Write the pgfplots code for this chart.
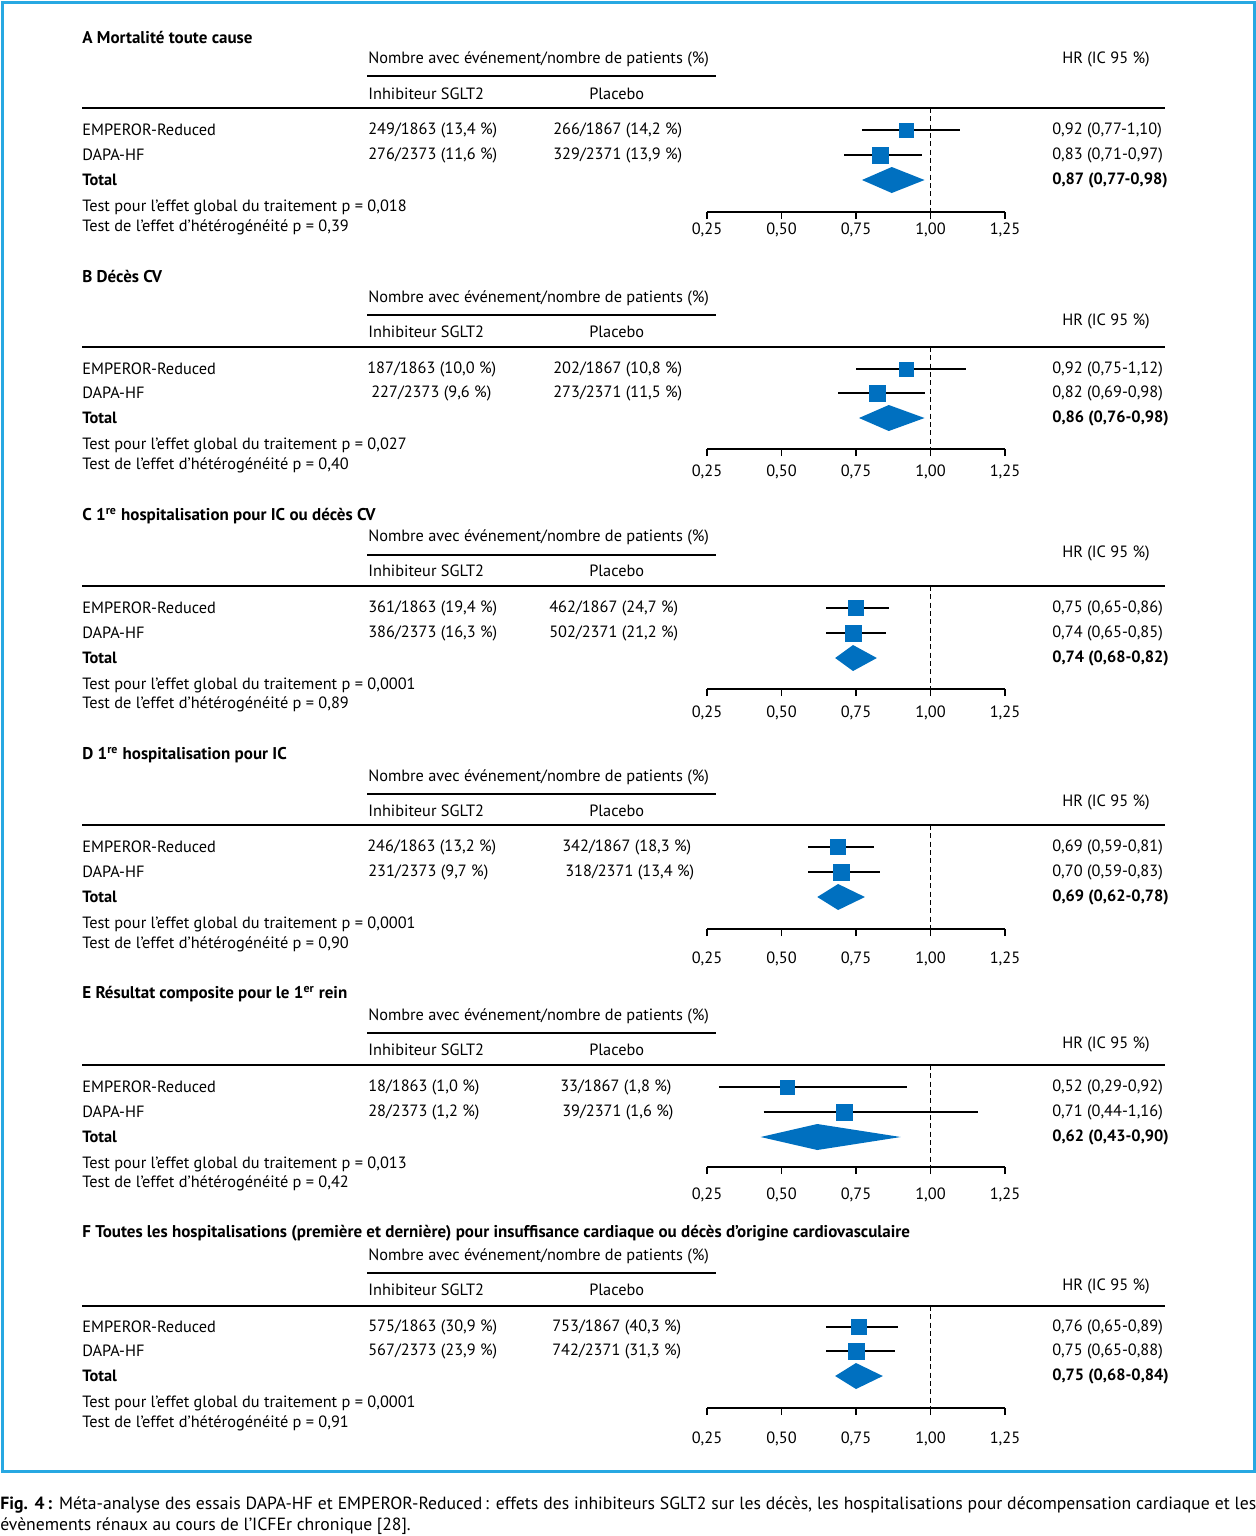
\documentclass[border=0pt]{standalone}
\usepackage{pgfplots}
\pgfplotsset{compat=1.18}
\usepackage{fontspec}
\setmainfont{PT Sans}
\definecolor{mblue}{RGB}{0,112,192}
\definecolor{fblue}{RGB}{40,168,226}
\newcommand\tf{\fontsize{9.8}{11}\selectfont}
\newcommand\hf{\fontsize{10.2}{12}\selectfont\bfseries}

% one forest plot = one axis, y given in pixel rows (negative)
\pgfplotsset{
  forest/.style={
    x=178.8pt, y=0.6pt, anchor=north west, clip=false,
    xmin=0.25, xmax=1.25,
    axis x line*=bottom, hide y axis,
    x axis line style={-, line width=0.9pt},
    xtick={0.25,0.5,0.75,1,1.25},
    tick align=outside, major tick length=4.2pt,
    tick style={line width=0.9pt, black},
    /pgf/number format/use comma,
    /pgf/number format/fixed,
    /pgf/number format/fixed zerofill,
    /pgf/number format/precision=2,
    /pgf/number format/assume math mode=true,
    xticklabel style={font=\tf, anchor=center},
  },
  ci/.style={line width=0.9pt, black},
  est/.style={only marks, mark=square*, mark size=#1, mark options={draw=mblue, fill=mblue}},
  dia/.style={fill=mblue, draw=none},
  ref/.style={densely dashed, line width=0.6pt, black},
}
\newcommand\T[3]{\node[anchor=west, inner sep=0pt, font=\tf] at (#1,#2) {#3};}
\newcommand\Hd[3]{\node[anchor=west, inner sep=0pt, font=\hf] at (#1,#2) {#3};}

\begin{document}
\begin{tikzpicture}[x=0.6pt, y=-0.6pt]
\path[use as bounding box] (0,0) rectangle (1256,1536);
\draw[fblue, line width=1.8pt] (2,2) rectangle (1254,1471);

% ---------- A
\Hd{82}{37}{A Mortalité toute cause}
\T{368}{59}{Nombre avec événement/nombre de patients (\%)}
\draw[line width=1.2pt] (367,76) -- (716,76);
\T{368}{94}{Inhibiteur SGLT2}
\T{589}{94}{Placebo}
\T{1062}{59}{HR (IC 95~\%)}
\draw[line width=1.2pt] (82,108) -- (1165,108);
\T{82}{130}{EMPEROR-Reduced}
\T{368}{130}{249/1863 (13,4~\%)}
\T{553}{130}{266/1867 (14,2~\%)}
\T{1052}{130}{0,92 (0,77-1,10)}
\T{82}{155}{DAPA-HF}
\T{368}{155}{276/2373 (11,6~\%)}
\T{553}{155}{329/2371 (13,9~\%)}
\T{1052}{155}{0,83 (0,71-0,97)}
\T{82}{180}{\bfseries Total}
\T{1052}{180}{\bfseries 0,87 (0,77-0,98)}
\T{82}{207}{Test pour l'effet global du traitement p = 0,018}
\T{82}{227}{Test de l'effet d'hétérogénéité p = 0,39}
\begin{axis}[forest, at={(707*0.6pt,-108*0.6pt)}, ymin=-212, ymax=-108, xticklabel style={yshift=-6.6pt}]
\addplot[ref] coordinates {(1,-108) (1,-212)};
\addplot[ci] coordinates {(0.77,-130) (1.10,-130)};
\addplot[est=4.2pt] coordinates {(0.92,-130)};
\addplot[ci] coordinates {(0.71,-155) (0.97,-155)};
\addplot[est=4.8pt] coordinates {(0.83,-155)};
\addplot[dia] coordinates {(0.77,-180) (0.87,-167) (0.98,-180) (0.87,-193)} -- cycle;
\end{axis}

% ---------- B
\Hd{82}{276}{B Décès CV}
\T{368}{298}{Nombre avec événement/nombre de patients (\%)}
\draw[line width=1.2pt] (367,315) -- (716,315);
\T{368}{332}{Inhibiteur SGLT2}
\T{589}{332}{Placebo}
\T{1062}{321}{HR (IC 95~\%)}
\draw[line width=1.2pt] (82,347) -- (1165,347);
\T{82}{369}{EMPEROR-Reduced}
\T{367}{369}{187/1863 (10,0~\%)}
\T{553}{369}{202/1867 (10,8~\%)}
\T{1052}{369}{0,92 (0,75-1,12)}
\T{82}{393}{DAPA-HF}
\T{371}{393}{227/2373 (9,6~\%)}
\T{553}{393}{273/2371 (11,5~\%)}
\T{1052}{393}{0,82 (0,69-0,98)}
\T{82}{418}{\bfseries Total}
\T{1052}{418}{\bfseries 0,86 (0,76-0,98)}
\T{82}{445}{Test pour l'effet global du traitement p = 0,027}
\T{82}{465}{Test de l'effet d'hétérogénéité p = 0,40}
\begin{axis}[forest, at={(707*0.6pt,-347*0.6pt)}, ymin=-449, ymax=-347, xticklabel style={yshift=-9.6pt}]
\addplot[ref] coordinates {(1,-347) (1,-449)};
\addplot[ci] coordinates {(0.75,-369) (1.12,-369)};
\addplot[est=4.2pt] coordinates {(0.92,-369)};
\addplot[ci] coordinates {(0.69,-393) (0.98,-393)};
\addplot[est=4.8pt] coordinates {(0.82,-393)};
\addplot[dia] coordinates {(0.76,-418) (0.86,-405) (0.98,-418) (0.86,-431)} -- cycle;
\end{axis}

% ---------- C
\Hd{82}{516}{C 1\textsuperscript{re} hospitalisation pour IC ou décès CV}
\T{368}{537}{Nombre avec événement/nombre de patients (\%)}
\draw[line width=1.2pt] (367,555) -- (716,555);
\T{368}{571}{Inhibiteur SGLT2}
\T{589}{571}{Placebo}
\T{1062}{553}{HR (IC 95~\%)}
\draw[line width=1.2pt] (82,586) -- (1165,586);
\T{82}{608}{EMPEROR-Reduced}
\T{368}{608}{361/1863 (19,4~\%)}
\T{549}{608}{462/1867 (24,7~\%)}
\T{1052}{608}{0,75 (0,65-0,86)}
\T{82}{633}{DAPA-HF}
\T{368}{633}{386/2373 (16,3~\%)}
\T{549}{633}{502/2371 (21,2~\%)}
\T{1052}{633}{0,74 (0,65-0,85)}
\T{82}{658}{\bfseries Total}
\T{1052}{658}{\bfseries 0,74 (0,68-0,82)}
\T{82}{685}{Test pour l'effet global du traitement p = 0,0001}
\T{82}{704}{Test de l'effet d'hétérogénéité p = 0,89}
\begin{axis}[forest, at={(707*0.6pt,-586*0.6pt)}, ymin=-689, ymax=-586, xticklabel style={yshift=-10.2pt}]
\addplot[ref] coordinates {(1,-586) (1,-689)};
\addplot[ci] coordinates {(0.65,-608) (0.86,-608)};
\addplot[est=4.5pt] coordinates {(0.75,-608)};
\addplot[ci] coordinates {(0.65,-633) (0.85,-633)};
\addplot[est=4.8pt] coordinates {(0.74,-633)};
\addplot[dia] coordinates {(0.68,-658) (0.74,-645) (0.82,-658) (0.74,-671)} -- cycle;
\end{axis}

% ---------- D
\Hd{82}{755}{D 1\textsuperscript{re} hospitalisation pour IC}
\T{368}{777}{Nombre avec événement/nombre de patients (\%)}
\draw[line width=1.2pt] (367,794) -- (716,794);
\T{368}{811}{Inhibiteur SGLT2}
\T{589}{811}{Placebo}
\T{1062}{802}{HR (IC 95~\%)}
\draw[line width=1.2pt] (82,825) -- (1165,825);
\T{82}{847}{EMPEROR-Reduced}
\T{367}{847}{246/1863 (13,2~\%)}
\T{562}{847}{342/1867 (18,3~\%)}
\T{1052}{847}{0,69 (0,59-0,81)}
\T{82}{872}{DAPA-HF}
\T{368}{872}{231/2373 (9,7~\%)}
\T{565}{872}{318/2371 (13,4~\%)}
\T{1052}{872}{0,70 (0,59-0,83)}
\T{82}{897}{\bfseries Total}
\T{1052}{897}{\bfseries 0,69 (0,62-0,78)}
\T{82}{924}{Test pour l'effet global du traitement p = 0,0001}
\T{82}{944}{Test de l'effet d'hétérogénéité p = 0,90}
\begin{axis}[forest, at={(707*0.6pt,-825*0.6pt)}, ymin=-929, ymax=-825, xticklabel style={yshift=-13.8pt}]
\addplot[ref] coordinates {(1,-825) (1,-929)};
\addplot[ci] coordinates {(0.59,-847) (0.81,-847)};
\addplot[est=4.5pt] coordinates {(0.69,-847)};
\addplot[ci] coordinates {(0.59,-872) (0.83,-872)};
\addplot[est=4.8pt] coordinates {(0.70,-872)};
\addplot[dia] coordinates {(0.62,-897) (0.69,-884) (0.78,-897) (0.69,-910)} -- cycle;
\end{axis}

% ---------- E
\Hd{82}{994}{E Résultat composite pour le 1\textsuperscript{er} rein}
\T{368}{1016}{Nombre avec événement/nombre de patients (\%)}
\draw[line width=1.2pt] (367,1033) -- (716,1033);
\T{368}{1050}{Inhibiteur SGLT2}
\T{589}{1050}{Placebo}
\T{1062}{1044}{HR (IC 95~\%)}
\draw[line width=1.2pt] (82,1065) -- (1165,1065);
\T{82}{1087}{EMPEROR-Reduced}
\T{368}{1087}{18/1863 (1,0~\%)}
\T{560}{1087}{33/1867 (1,8~\%)}
\T{1052}{1087}{0,52 (0,29-0,92)}
\T{82}{1112}{DAPA-HF}
\T{368}{1112}{28/2373 (1,2~\%)}
\T{562}{1112}{39/2371 (1,6~\%)}
\T{1052}{1112}{0,71 (0,44-1,16)}
\T{82}{1137}{\bfseries Total}
\T{1052}{1137}{\bfseries 0,62 (0,43-0,90)}
\T{82}{1164}{Test pour l'effet global du traitement p = 0,013}
\T{82}{1183}{Test de l'effet d'hétérogénéité p = 0,42}
\begin{axis}[forest, at={(707*0.6pt,-1065*0.6pt)}, ymin=-1167, ymax=-1065, xticklabel style={yshift=-12.6pt}]
\addplot[ref] coordinates {(1,-1065) (1,-1167)};
\addplot[ci] coordinates {(0.29,-1087) (0.92,-1087)};
\addplot[est=4.2pt] coordinates {(0.52,-1087)};
\addplot[ci] coordinates {(0.44,-1112) (1.16,-1112)};
\addplot[est=4.8pt] coordinates {(0.71,-1112)};
\addplot[dia] coordinates {(0.43,-1137) (0.62,-1124) (0.90,-1137) (0.62,-1150)} -- cycle;
\end{axis}

% ---------- F
\Hd{82}{1233}{F Toutes les hospitalisations (première et dernière) pour insuffisance cardiaque ou décès d'origine cardiovasculaire}
\T{368}{1256}{Nombre avec événement/nombre de patients (\%)}
\draw[line width=1.2pt] (367,1273) -- (716,1273);
\T{368}{1290}{Inhibiteur SGLT2}
\T{589}{1290}{Placebo}
\T{1062}{1286}{HR (IC 95~\%)}
\draw[line width=1.2pt] (82,1306) -- (1165,1306);
\T{82}{1327}{EMPEROR-Reduced}
\T{368}{1327}{575/1863 (30,9~\%)}
\T{552}{1327}{753/1867 (40,3~\%)}
\T{1052}{1327}{0,76 (0,65-0,89)}
\T{82}{1351}{DAPA-HF}
\T{368}{1351}{567/2373 (23,9~\%)}
\T{552}{1351}{742/2371 (31,3~\%)}
\T{1052}{1351}{0,75 (0,65-0,88)}
\T{82}{1376}{\bfseries Total}
\T{1052}{1376}{\bfseries 0,75 (0,68-0,84)}
\T{82}{1403}{Test pour l'effet global du traitement p = 0,0001}
\T{82}{1423}{Test de l'effet d'hétérogénéité p = 0,91}
\begin{axis}[forest, at={(707*0.6pt,-1306*0.6pt)}, ymin=-1408, ymax=-1306, xticklabel style={yshift=-14.4pt}]
\addplot[ref] coordinates {(1,-1306) (1,-1408)};
\addplot[ci] coordinates {(0.65,-1327) (0.89,-1327)};
\addplot[est=4.5pt] coordinates {(0.76,-1327)};
\addplot[ci] coordinates {(0.65,-1351) (0.88,-1351)};
\addplot[est=4.8pt] coordinates {(0.75,-1351)};
\addplot[dia] coordinates {(0.68,-1376) (0.75,-1363) (0.84,-1376) (0.75,-1389)} -- cycle;
\end{axis}

% ---------- caption
\node[anchor=west, inner sep=0pt, font=\fontsize{10.6}{12}\selectfont] at (0,1505)
  {\makebox[753.6pt][s]{\textbf{Fig. 4\,:} Méta-analyse des essais DAPA-HF et EMPEROR-Reduced\,: effets des inhibiteurs SGLT2 sur les décès, les hospitalisations pour décompensation cardiaque et les}};
\node[anchor=west, inner sep=0pt, font=\fontsize{10.6}{12}\selectfont] at (0,1526)
  {évènements rénaux au cours de l'ICFEr chronique [28].};
\end{tikzpicture}
\end{document}
